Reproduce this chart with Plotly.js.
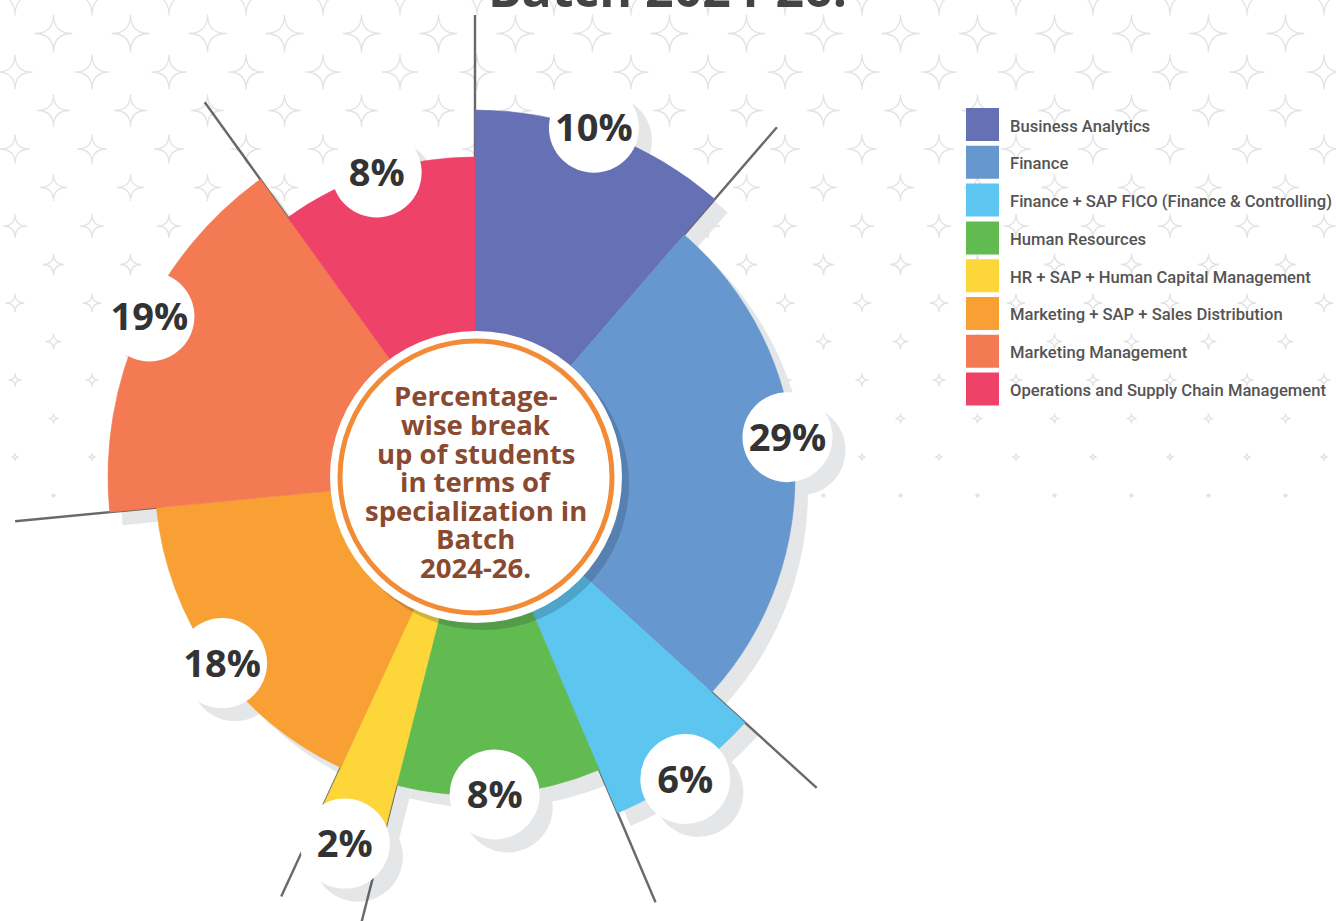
<!DOCTYPE html>
<html>
<head>
<meta charset="utf-8">
<script src="https://cdn.plot.ly/plotly-3.0.1.min.js"></script>
<style>
html,body{margin:0;padding:0;background:#ffffff;overflow:hidden}
#chart{width:1336px;height:921px}
</style>
</head>
<body>
<div id="chart"></div>
<script>
// ---------------- DATA ----------------
const categories = [
  'Business Analytics',
  'Finance',
  'Finance + SAP FICO (Finance & Controlling)',
  'Human Resources',
  'HR + SAP + Human Capital Management',
  'Marketing + SAP + Sales Distribution',
  'Marketing Management',
  'Operations and Supply Chain Management'
];
const percentLabels = [10, 29, 6, 8, 2, 18, 19, 8];
// angular extent of each sector as drawn (degrees, clockwise from top)
const sectorSpanDeg = [40.8, 91.5, 24.7, 37.3, 10.5, 59.7, 59.7, 35.8];
// radial length of each sector as drawn
const barLength = [367, 320, 365, 318, 362, 320, 367, 320];
const centerTextLines = ['Percentage-', 'wise break', 'up of students', 'in terms of', 'specialization in', 'Batch', '2024-26.'];
const titleText = 'Batch 2024-26.';

// ---------------- STYLE ----------------
const colors = ['#6570b5', '#6698cf', '#5cc6f0', '#62bb51', '#fdd73a', '#f8a034', '#f47a54', '#ef4269'];
const shadowColor = '#e5e6e8';
const W = 1336, H = 921;
const CX = 475, CY = 477, R = 430;      // polar centre / radius in px (1 radial unit = 1 px)
const SDX = 13, SDY = 13;               // drop-shadow offset
const LINE_R = 462;                     // outer end of separator lines
const TEXT_DROP = 4;                    // push bubble text down (px) to sit optically centred
const labelNudge = [ {dr:2,dt:-1.6}, {dr:-5,dt:-3.8}, {dr:3,dt:0.5}, {dr:0,dt:0.8},
                     {dr:27,dt:0}, {dr:-6,dt:-1}, {dr:-4,dt:1.9}, {dr:0,dt:0} ];

// ---------------- DERIVED ----------------
const mids = [], bounds = [];
let acc = 0;
sectorSpanDeg.forEach(s => { bounds.push(acc); mids.push(acc + s / 2); acc += s; });
const labelR = barLength.map((v, i) => v + labelNudge[i].dr);
const labelT = mids.map((v, i) => v + labelNudge[i].dt);

// text position: same point, dropped a few px on screen
const rad = Math.PI / 180;
const textR = [], textT = [];
labelR.forEach((r, i) => {
  const x = r * Math.sin(labelT[i] * rad);
  const yd = -r * Math.cos(labelT[i] * rad) + TEXT_DROP;
  textR.push(Math.hypot(x, yd));
  textT.push(Math.atan2(x, -yd) / rad);
});

// separator lines at every sector boundary (drawn as rotated line markers so they can pass the plot edge)
const sepR = [], sepT = [], sepLen = [];
bounds.forEach((b, i) => {
  const prev = (i - 1 + barLength.length) % barLength.length;
  const inner = Math.min(barLength[i], barLength[prev]) - 6;
  sepR.push((inner + LINE_R) / 2);
  sepT.push(b);
  sepLen.push(LINE_R - inner);
});

function dom(cx, cy) {
  return { x: [(cx - R) / W, (cx + R) / W], y: [1 - (cy + R) / H, 1 - (cy - R) / H] };
}
function polarCfg(d) {
  return {
    domain: d, bgcolor: 'rgba(0,0,0,0)', hole: 0, bargap: 0,
    radialaxis: { range: [0, R], visible: false, showgrid: false, showline: false, showticklabels: false, ticks: '' },
    angularaxis: { rotation: 90, direction: 'clockwise', visible: false, showgrid: false, showline: false, showticklabels: false, ticks: '' }
  };
}

const traces = [
  // shadow layer
  { type: 'barpolar', subplot: 'polar', r: barLength, theta: mids, width: sectorSpanDeg,
    marker: { color: shadowColor, line: { width: 0 } }, hoverinfo: 'skip', showlegend: false },
  { type: 'scatterpolar', subplot: 'polar', mode: 'markers', r: labelR, theta: labelT, cliponaxis: false,
    marker: { size: 90, color: shadowColor, line: { width: 0 } }, hoverinfo: 'skip', showlegend: false },
  // separator lines
  { type: 'scatterpolar', subplot: 'polar2', mode: 'markers', r: sepR, theta: sepT, cliponaxis: false,
    marker: { symbol: 'line-ns', size: sepLen.map(l => l / 1.4), angle: sepT, angleref: 'up',
              color: '#2b2b2b', line: { color: '#2b2b2b', width: 2.4 } },
    hoverinfo: 'skip', showlegend: false },
  // main sectors
  { type: 'barpolar', subplot: 'polar3', r: barLength, theta: mids, width: sectorSpanDeg, name: 'sectors',
    text: categories, marker: { color: colors, line: { color: colors, width: 0.6 } }, hoverinfo: 'text', showlegend: false },
  // percentage bubbles
  { type: 'scatterpolar', subplot: 'polar3', mode: 'markers', r: labelR, theta: labelT, cliponaxis: false,
    marker: { size: 90, color: '#ffffff', line: { width: 0 } }, hoverinfo: 'skip', showlegend: false },
  { type: 'scatterpolar', subplot: 'polar3', mode: 'text', r: textR, theta: textT, cliponaxis: false,
    text: percentLabels.map(p => p + '%'), textposition: 'middle center',
    textfont: { family: '"Open Sans", sans-serif', size: 38, color: '#333333', weight: 700 },
    hoverinfo: 'skip', showlegend: false }
];

// ---------------- background star pattern ----------------
let stars = '';
for (let row = 0; row < 30; row++) {
  const y = -5 + 38.5 * row;
  const h = 19.5 * (1 - (y - 20) / 540);
  if (h < 1) break;
  const x0 = row % 2 === 0 ? 15 : 53.5;
  for (let x = x0 - 77; x < W + 77; x += 77) {
    stars += `<path d="M${x},${y - h} Q${x},${y} ${x + h},${y} Q${x},${y} ${x},${y + h} Q${x},${y} ${x - h},${y} Q${x},${y} ${x},${y - h}Z"/>`;
  }
}
const bgSvg = `<svg xmlns="http://www.w3.org/2000/svg" width="${W}" height="${H}" viewBox="0 0 ${W} ${H}"><g fill="none" stroke="#e3e3e3" stroke-width="1.3">${stars}</g></svg>`;

// ---------------- shapes & annotations ----------------
const px = x => x / W, py = y => 1 - y / H;
function circ(cx, cy, r, fill, line) {
  return { type: 'circle', xref: 'paper', yref: 'paper', x0: px(cx - r), x1: px(cx + r), y0: py(cy + r), y1: py(cy - r),
           fillcolor: fill, line: line, layer: 'above' };
}
const shapes = [
  circ(483, 484, 146, 'rgba(30,30,50,0.2)', { width: 0 }),
  circ(476, 477, 146, '#ffffff', { width: 0 }),
  circ(476, 477, 136, 'rgba(0,0,0,0)', { color: '#f28a36', width: 5 })
];
const annotations = [];
centerTextLines.forEach((t, i) => {
  annotations.push({ xref: 'paper', yref: 'paper', x: px(476), y: py(396 + 28.5 * i), xanchor: 'center', yanchor: 'middle',
    text: t, showarrow: false, font: { family: '"Open Sans", sans-serif', size: 27.5, color: '#8a4a30', weight: 700 } });
});
// legend
const LEG_X = 966, LEG_Y = 108, LEG_STEP = 37.8, SW = 33;
categories.forEach((c, i) => {
  const top = LEG_Y + LEG_STEP * i;
  shapes.push({ type: 'rect', xref: 'paper', yref: 'paper', x0: px(LEG_X), x1: px(LEG_X + SW), y0: py(top + SW), y1: py(top),
    fillcolor: colors[i], line: { width: 0 }, layer: 'below' });
  annotations.push({ xref: 'paper', yref: 'paper', x: px(1008), y: py(top + SW / 2 + 1.5), xanchor: 'left', yanchor: 'middle',
    text: c, showarrow: false, font: { family: 'Roboto, sans-serif', size: 16.6, color: '#545454', weight: 500 } });
});
// cut-off title
annotations.push({ xref: 'paper', yref: 'paper', x: px(667), y: py(24), xanchor: 'center', yanchor: 'bottom',
  text: titleText, showarrow: false, font: { family: '"Open Sans", sans-serif', size: 50, color: '#444444', weight: 700 } });

const layout = {
  width: W, height: H,
  margin: { l: 0, r: 0, t: 0, b: 0, pad: 0 },
  paper_bgcolor: '#ffffff', plot_bgcolor: 'rgba(0,0,0,0)',
  showlegend: false,
  polar: polarCfg(dom(CX + SDX, CY + SDY)),
  polar2: polarCfg(dom(CX, CY)),
  polar3: polarCfg(dom(CX, CY)),
  shapes: shapes,
  annotations: annotations,
  images: [{ source: 'data:image/svg+xml;charset=utf-8,' + encodeURIComponent(bgSvg), xref: 'paper', yref: 'paper',
             x: 0, y: 1, sizex: 1, sizey: 1, xanchor: 'left', yanchor: 'top', sizing: 'stretch', layer: 'below' }]
};

Plotly.newPlot('chart', traces, layout, { displayModeBar: false, staticPlot: true });
</script>
</body>
</html>
